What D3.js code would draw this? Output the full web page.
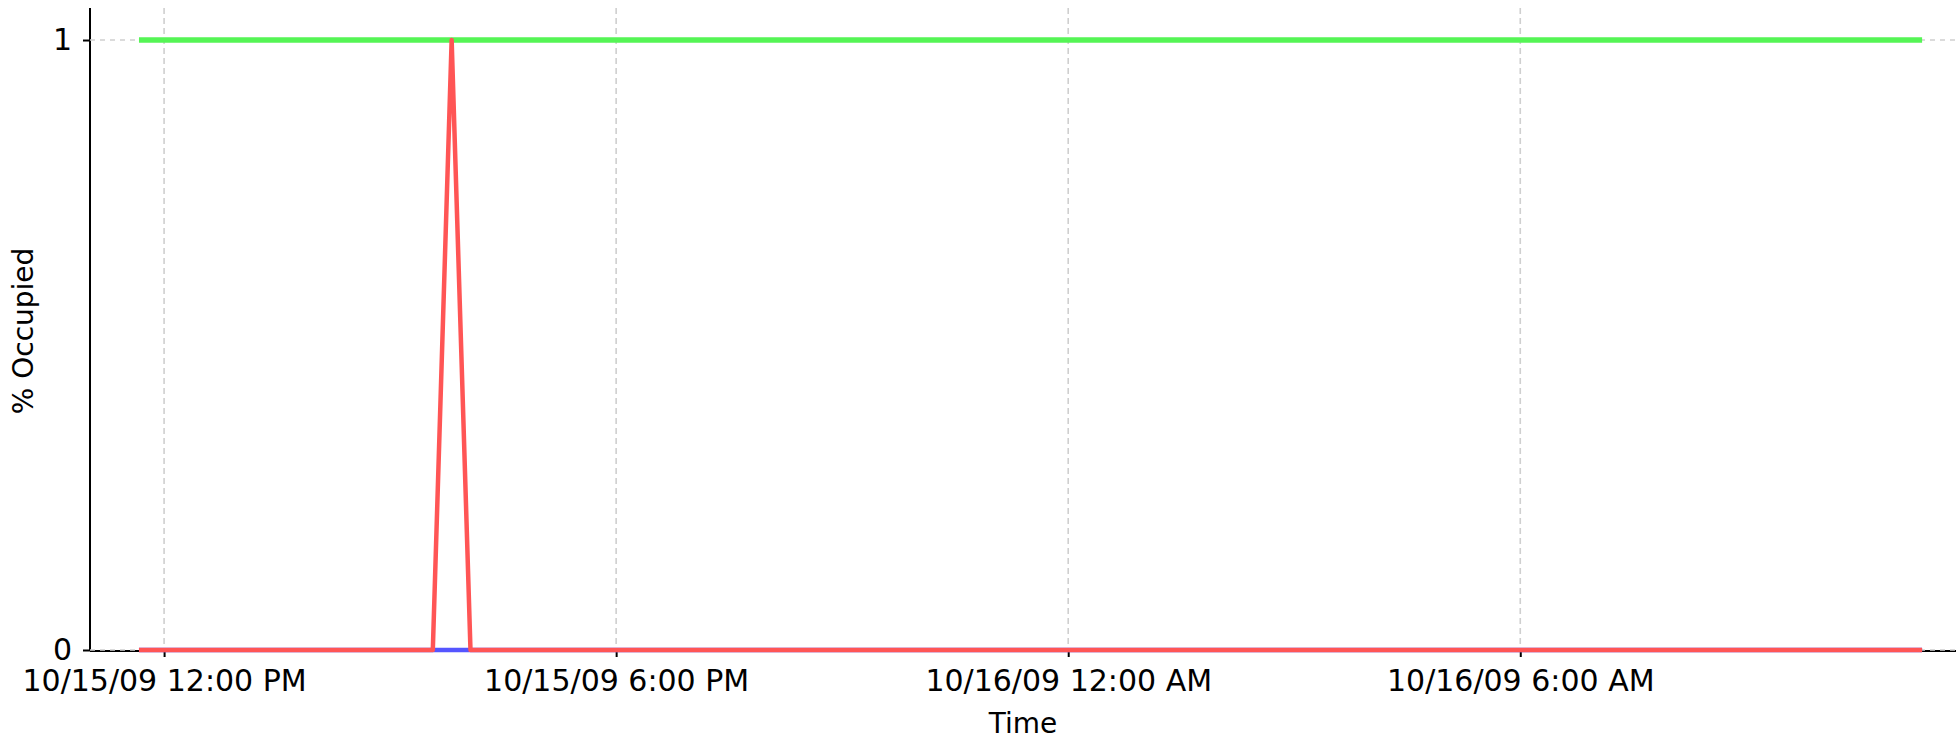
<!DOCTYPE html>
<html>
<head>
<meta charset="utf-8">
<script src="https://cdn.jsdelivr.net/npm/d3@7"></script>
<style>
  html, body { margin: 0; padding: 0; background: #ffffff; }
  svg { display: block; }
  text { font-family: "DejaVu Sans", sans-serif; fill: #000; }
</style>
</head>
<body>
<svg id="chart" width="1959" height="743"></svg>
<script>
// ---- data ----
const times = ["2009-10-15 11:40", "2009-10-15 15:34", "2009-10-15 15:49", "2009-10-15 16:04", "2009-10-16 11:20"];
const seriesGreen = [1, 1, 1, 1, 1];
const seriesBlue  = [0, 0, 0, 0, 0];
const seriesRed   = [0, 0, 1, 0, 0];
const xTickTimes = ["2009-10-15 12:00", "2009-10-15 18:00", "2009-10-16 00:00", "2009-10-16 06:00"];
const yTickValues = [0, 1];
const xDomain = ["2009-10-15 11:01", "2009-10-16 11:47"];
const yDomain = [0, 1.0525];
const xLabel = "Time";
const yLabel = "% Occupied";

const parse = d3.timeParse("%Y-%m-%d %H:%M");
const fmt = d3.timeFormat("%m/%d/%y %-I:%M %p");

const svg = d3.select("#chart");
const mLeft = 90, mRight = 1956, mTop = 8, mBottom = 650;

const x = d3.scaleTime().domain(xDomain.map(parse)).range([mLeft, mRight]);
const y = d3.scaleLinear().domain(yDomain).range([mBottom, mTop]);

const xTicks = xTickTimes.map(parse);

// grid (vertical)
const grid = svg.append("g");
grid.selectAll("line.v").data(xTicks).join("line").attr("class", "v")
  .attr("x1", d => x(d)).attr("x2", d => x(d))
  .attr("y1", mTop).attr("y2", mBottom)
  .attr("stroke", "#cfcfcf").attr("stroke-width", 1.6)
  .attr("stroke-dasharray", "6,4");

// axes lines
svg.append("line").attr("x1", mLeft).attr("x2", mLeft).attr("y1", mTop).attr("y2", mBottom + 1)
  .attr("stroke", "#000").attr("stroke-width", 2);
svg.append("line").attr("x1", mLeft).attr("x2", mRight).attr("y1", mBottom + 1).attr("y2", mBottom + 1)
  .attr("stroke", "#000").attr("stroke-width", 2);

// grid (horizontal)
const gridH = svg.append("g");
gridH.selectAll("line.h").data(yTickValues).join("line").attr("class", "h")
  .attr("x1", mLeft).attr("x2", mRight)
  .attr("y1", d => y(d)).attr("y2", d => y(d))
  .attr("stroke", "#cfcfcf").attr("stroke-width", 1.6)
  .attr("stroke-dasharray", "5,5");

// y ticks
const yAxis = d3.axisLeft(y).tickValues(yTickValues).tickSize(7).tickPadding(11).tickFormat(d3.format("d"));
const gy = svg.append("g").attr("transform", `translate(${mLeft},0)`).call(yAxis);
gy.select(".domain").remove();
gy.selectAll(".tick line").attr("stroke", "#000").attr("stroke-width", 2);
gy.selectAll(".tick text").style("font-size", "30px").style("font-family", "DejaVu Sans");

// x ticks
const xAxis = d3.axisBottom(x).tickValues(xTicks).tickSize(7).tickPadding(13).tickFormat(fmt);
const gx = svg.append("g").attr("transform", `translate(0,${mBottom})`).call(xAxis);
gx.select(".domain").remove();
gx.selectAll(".tick line").attr("stroke", "#000").attr("stroke-width", 2);
gx.selectAll(".tick text").style("font-size", "30px").style("font-family", "DejaVu Sans");

// lines
const pts = times.map(parse);
const line = d3.line().x(d => x(d[0])).y(d => y(d[1]));
const drawSeries = (vals, color, w) => {
  svg.append("path")
    .datum(pts.map((t, i) => [t, vals[i]]))
    .attr("d", line)
    .attr("fill", "none")
    .attr("stroke", color)
    .attr("stroke-width", w)
    .attr("stroke-linejoin", "round")
    .attr("stroke-linecap", "butt");
};
drawSeries(seriesGreen, "#55f555", 5.5);
drawSeries(seriesBlue, "#5555ff", 4.5);
drawSeries(seriesRed, "#ff5555", 4.5);

// labels
svg.append("text").attr("x", (mLeft + mRight) / 2).attr("y", 733)
  .attr("text-anchor", "middle").style("font-size", "28px").text(xLabel);
svg.append("text").attr("transform", `translate(33,331) rotate(-90)`)
  .attr("text-anchor", "middle").style("font-size", "28px").text(yLabel);
</script>
</body>
</html>
